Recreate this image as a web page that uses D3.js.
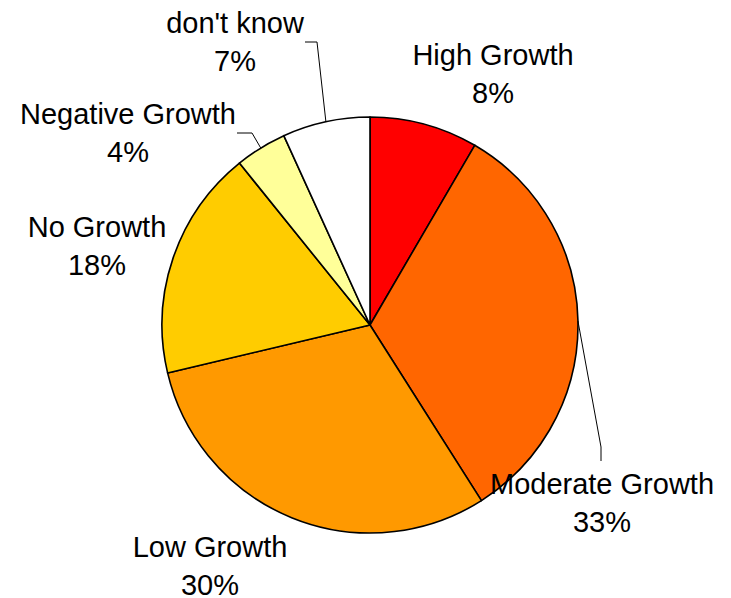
<!DOCTYPE html>
<html>
<head>
<meta charset="utf-8">
<script src="https://cdn.jsdelivr.net/npm/d3@7"></script>
<style>
  body { margin: 0; background: #fff; }
  svg { display: block; }
  .label { font-family: "Liberation Sans", Arial, sans-serif; font-size: 29px; fill: #000; }
  .leader { fill: none; stroke: #000; stroke-width: 1; }
</style>
</head>
<body>
<svg id="chart" width="731" height="598"></svg>
<script>
// data
const categories = ['High Growth', 'Moderate Growth', 'Low Growth', 'No Growth', 'Negative Growth', "don't know"];
const shares = [8.4, 32.6, 30.3, 17.9, 4.0, 6.8];
const percentLabels = ['8%', '33%', '30%', '18%', '4%', '7%'];
const colors = ['#FF0000', '#FF6600', '#FF9900', '#FFCC00', '#FFFF99', '#FFFFFF'];

// layout (label centre x, first baseline y, optional leader path after the arc point)
const LAYOUT = {
  cx: 370,
  cy: 325,
  radius: 208,
  lineGap: 38,
  labels: [
    { x: 493, y: 65 },
    { x: 602, y: 494, leader: [[601, 447], [601, 461]] },
    { x: 210, y: 557 },
    { x: 97, y: 237 },
    { x: 128, y: 124, leader: [[252, 133], [237, 133]] },
    { x: 235, y: 33, leader: [[317, 42], [305, 42]] }
  ]
};

const svg = d3.select('#chart');
const rows = categories.map((name, i) => ({ name, value: shares[i], pct: percentLabels[i], color: colors[i] }));

const pie = d3.pie().sort(null).value(d => d.value);
const arc = d3.arc().innerRadius(0).outerRadius(LAYOUT.radius);
const arcs = pie(rows);

const chart = svg.append('g')
  .attr('transform', `translate(${LAYOUT.cx}, ${LAYOUT.cy})`);

chart.selectAll('path.slice')
  .data(arcs)
  .join('path')
  .attr('class', 'slice')
  .attr('d', arc)
  .attr('fill', d => d.data.color)
  .attr('stroke', '#000')
  .attr('stroke-width', 1.6)
  .attr('stroke-linejoin', 'round');

// leader lines start on the rim at the slice's mid angle
const line = d3.line();
arcs.forEach((d, i) => {
  const lab = LAYOUT.labels[i];
  if (!lab.leader) return;
  const mid = (d.startAngle + d.endAngle) / 2;
  const start = [
    LAYOUT.cx + LAYOUT.radius * Math.sin(mid),
    LAYOUT.cy - LAYOUT.radius * Math.cos(mid)
  ];
  svg.append('path')
    .attr('class', 'leader')
    .attr('d', line([start, ...lab.leader]));
});

// labels
const labels = svg.selectAll('text.label')
  .data(arcs)
  .join('text')
  .attr('class', 'label')
  .attr('text-anchor', 'middle');

labels.append('tspan')
  .attr('x', (d, i) => LAYOUT.labels[i].x)
  .attr('y', (d, i) => LAYOUT.labels[i].y)
  .text(d => d.data.name);

labels.append('tspan')
  .attr('x', (d, i) => LAYOUT.labels[i].x)
  .attr('y', (d, i) => LAYOUT.labels[i].y + LAYOUT.lineGap)
  .text(d => d.data.pct);
</script>
</body>
</html>
